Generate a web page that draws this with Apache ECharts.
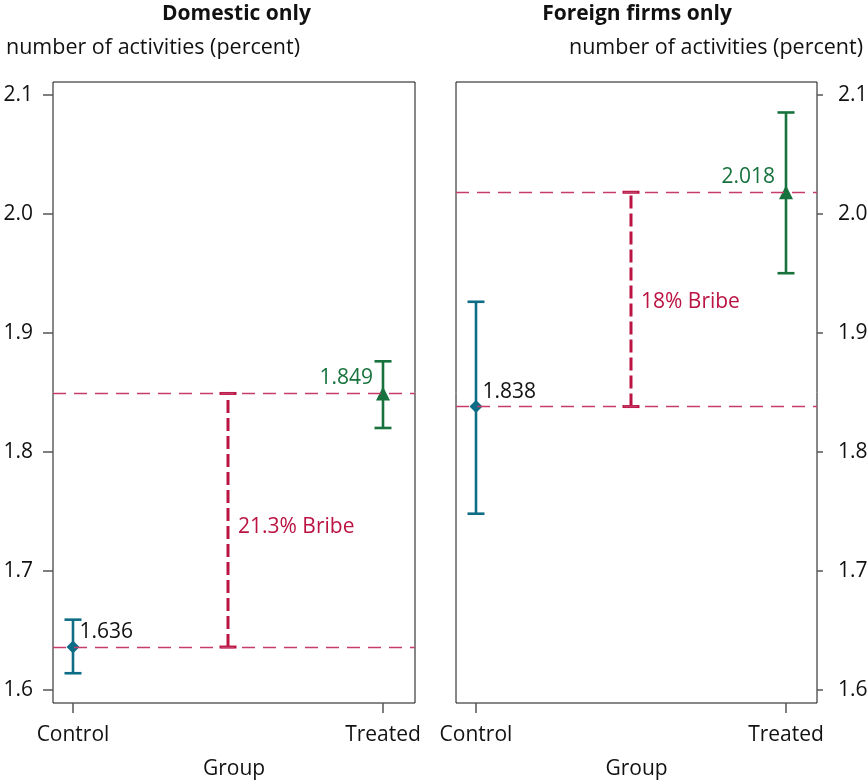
<!DOCTYPE html>
<html>
<head>
<meta charset="utf-8">
<script src="https://cdn.jsdelivr.net/npm/echarts@6/dist/echarts.min.js"></script>
<style>
html,body{margin:0;padding:0;background:#fff;}
#chart{width:868px;height:783px;}
</style>
</head>
<body>
<div id="chart"></div>
<script>
// ---- data ----
const categories = ['Control', 'Treated'];
const categoryX = [0, 1];
const domesticMeans = [1.636, 1.849];
const domesticLow = [1.614, 1.820];
const domesticHigh = [1.659, 1.876];
const foreignMeans = [1.838, 2.018];
const foreignLow = [1.748, 1.950];
const foreignHigh = [1.926, 2.085];
const bribeLabels = ['21.3% Bribe', '18% Bribe'];
const yTicks = [1.6, 1.7, 1.8, 1.9, 2.0, 2.1];
const panelTitles = ['Domestic only', 'Foreign firms only'];
const yAxisTitle = 'number of activities (percent)';
const xAxisTitle = 'Group';

// ---- styles ----
const FONT = '"Open Sans", "Noto Sans", sans-serif';
const FS = 21;
const TEAL = '#0e6d86';
const GREEN = '#17723d';
const CRIMSON = '#bb1443';
const HLINE = '#c73d6a';
const pointColors = [TEAL, GREEN];
const labelColors = ['#111', GREEN];
const symbols = ['diamond', 'triangle'];

const chart = echarts.init(document.getElementById('chart'), null, {renderer: 'canvas'});

function errorBarRender(params, api) {
  const x = api.value(0), lo = api.value(1), hi = api.value(2);
  const a = api.coord([x, lo]), b = api.coord([x, hi]);
  const w = 8.5;
  const style = {stroke: pointColors[params.dataIndex], lineWidth: 2.6, fill: null};
  return {type: 'group', children: [
    {type: 'line', shape: {x1: a[0], y1: a[1], x2: b[0], y2: b[1]}, style},
    {type: 'line', shape: {x1: a[0] - w, y1: a[1], x2: a[0] + w, y2: a[1]}, style},
    {type: 'line', shape: {x1: b[0] - w, y1: b[1], x2: b[0] + w, y2: b[1]}, style}
  ]};
}

function bribeRender(params, api) {
  const x = api.value(0), lo = api.value(1), hi = api.value(2);
  const a = api.coord([x, lo]), b = api.coord([x, hi]);
  const w = 8.5;
  return {type: 'group', children: [
    {type: 'line', shape: {x1: a[0], y1: a[1], x2: b[0], y2: b[1]},
     style: {stroke: CRIMSON, lineWidth: 3, lineDash: [13, 5]}},
    {type: 'line', shape: {x1: a[0] - w, y1: a[1], x2: a[0] + w, y2: a[1]},
     style: {stroke: CRIMSON, lineWidth: 3}},
    {type: 'line', shape: {x1: b[0] - w, y1: b[1], x2: b[0] + w, y2: b[1]},
     style: {stroke: CRIMSON, lineWidth: 3}}
  ]};
}

function panelSeries(idx, means, low, high, bribe) {
  const ebData = categoryX.map((x, i) => [x, low[i], high[i]]);
  const ptData = categoryX.map((x, i) => ({
    value: [x, means[i]],
    symbol: symbols[i],
    symbolSize: symbols[i] === 'diamond' ? 13 : 14,
    itemStyle: {color: pointColors[i], opacity: 1},
    label: {
      show: true,
      formatter: means[i].toFixed(3),
      color: labelColors[i],
      position: i === 0 ? 'right' : 'left',
      distance: i === 0 ? 0 : (idx === 0 ? 3 : 4),
      offset: [0, -15]
    }
  }));
  const lo = Math.min(means[0], means[1]), hi = Math.max(means[0], means[1]);
  return [
    {
      type: 'custom', xAxisIndex: idx, yAxisIndex: idx, z: 3,
      renderItem: errorBarRender, data: ebData, silent: true
    },
    {
      type: 'custom', xAxisIndex: idx, yAxisIndex: idx, z: 2,
      renderItem: bribeRender, data: [[0.5, lo, hi]], silent: true
    },
    {
      type: 'scatter', xAxisIndex: idx, yAxisIndex: idx, z: 4, silent: true,
      itemStyle: {opacity: 1},
      label: {fontFamily: FONT, fontSize: FS},
      data: ptData,
      markLine: {
        silent: true, symbol: 'none', precision: 4,
        label: {show: false},
        lineStyle: {color: HLINE, width: 1.3, type: [13, 8]},
        data: means.map(m => ({yAxis: m}))
      }
    },
    {
      type: 'scatter', xAxisIndex: idx, yAxisIndex: idx, z: 4, silent: true,
      symbolSize: 0, itemStyle: {opacity: 1},
      data: [{
        value: [0.5, (lo + hi) / 2],
        label: {show: true, formatter: bribe, position: 'right', distance: 10,
                color: CRIMSON, fontFamily: FONT, fontSize: FS, offset: [0, idx === 0 ? 7 : 3]}
      }]
    }
  ];
}

const axisLabelFont = {fontFamily: FONT, fontSize: FS, color: '#111'};

function xAxisCfg(idx, max) {
  return {
    type: 'value', gridIndex: idx, min: -0.0645, max: max,
    axisLine: {show: false, onZero: false},
    splitLine: {show: false},
    axisTick: {show: true, length: 10, lineStyle: {color: '#555', width: 1.5}, customValues: categoryX},
    axisLabel: Object.assign({customValues: categoryX, margin: 22,
      formatter: v => categories[categoryX.indexOf(Math.round(v))] || ''}, axisLabelFont),
    name: xAxisTitle, nameLocation: 'middle', nameGap: 56,
    nameTextStyle: {fontFamily: FONT, fontSize: FS, color: '#111'}
  };
}

function yAxisCfg(idx, pos) {
  return {
    type: 'value', gridIndex: idx, position: pos, min: 1.589, max: 2.1106,
    axisLine: {show: false, onZero: false},
    splitLine: {show: false},
    axisTick: {show: true, length: pos === 'left' ? 10 : 6, lineStyle: {color: '#555', width: 1.5}, customValues: yTicks},
    axisLabel: Object.assign({customValues: yTicks, margin: pos === 'left' ? 20 : 21,
      formatter: v => v.toFixed(1)}, axisLabelFont)
  };
}

const option = {
  backgroundColor: '#fff',
  animation: false,
  grid: [
    {left: 53, top: 82, width: 362, height: 621, show: true, borderColor: '#111', borderWidth: 1,
     backgroundColor: 'transparent', containLabel: false, outerBoundsMode: 'none'},
    {left: 456, top: 82, width: 361, height: 621, show: true, borderColor: '#111', borderWidth: 1,
     backgroundColor: 'transparent', containLabel: false, outerBoundsMode: 'none'}
  ],
  xAxis: [xAxisCfg(0, 1.1032), xAxisCfg(1, 1.1)],
  yAxis: [yAxisCfg(0, 'left'), yAxisCfg(1, 'right')],
  graphic: [
    {type: 'text', x: 236.5, y: 14, style: {text: panelTitles[0], textAlign: 'center', textVerticalAlign: 'middle',
      font: 'bold ' + FS + 'px ' + FONT, fill: '#111'}},
    {type: 'text', x: 637, y: 14, style: {text: panelTitles[1], textAlign: 'center', textVerticalAlign: 'middle',
      font: 'bold ' + FS + 'px ' + FONT, fill: '#111'}},
    {type: 'text', x: 6, y: 48, style: {text: yAxisTitle, textAlign: 'left', textVerticalAlign: 'middle',
      font: (FS + 0.5) + 'px ' + FONT, fill: '#111'}},
    {type: 'text', x: 863, y: 48, style: {text: yAxisTitle, textAlign: 'right', textVerticalAlign: 'middle',
      font: (FS + 0.5) + 'px ' + FONT, fill: '#111'}}
  ],
  series: [].concat(
    panelSeries(0, domesticMeans, domesticLow, domesticHigh, bribeLabels[0]),
    panelSeries(1, foreignMeans, foreignLow, foreignHigh, bribeLabels[1])
  )
};
chart.setOption(option);
</script>
</body>
</html>
